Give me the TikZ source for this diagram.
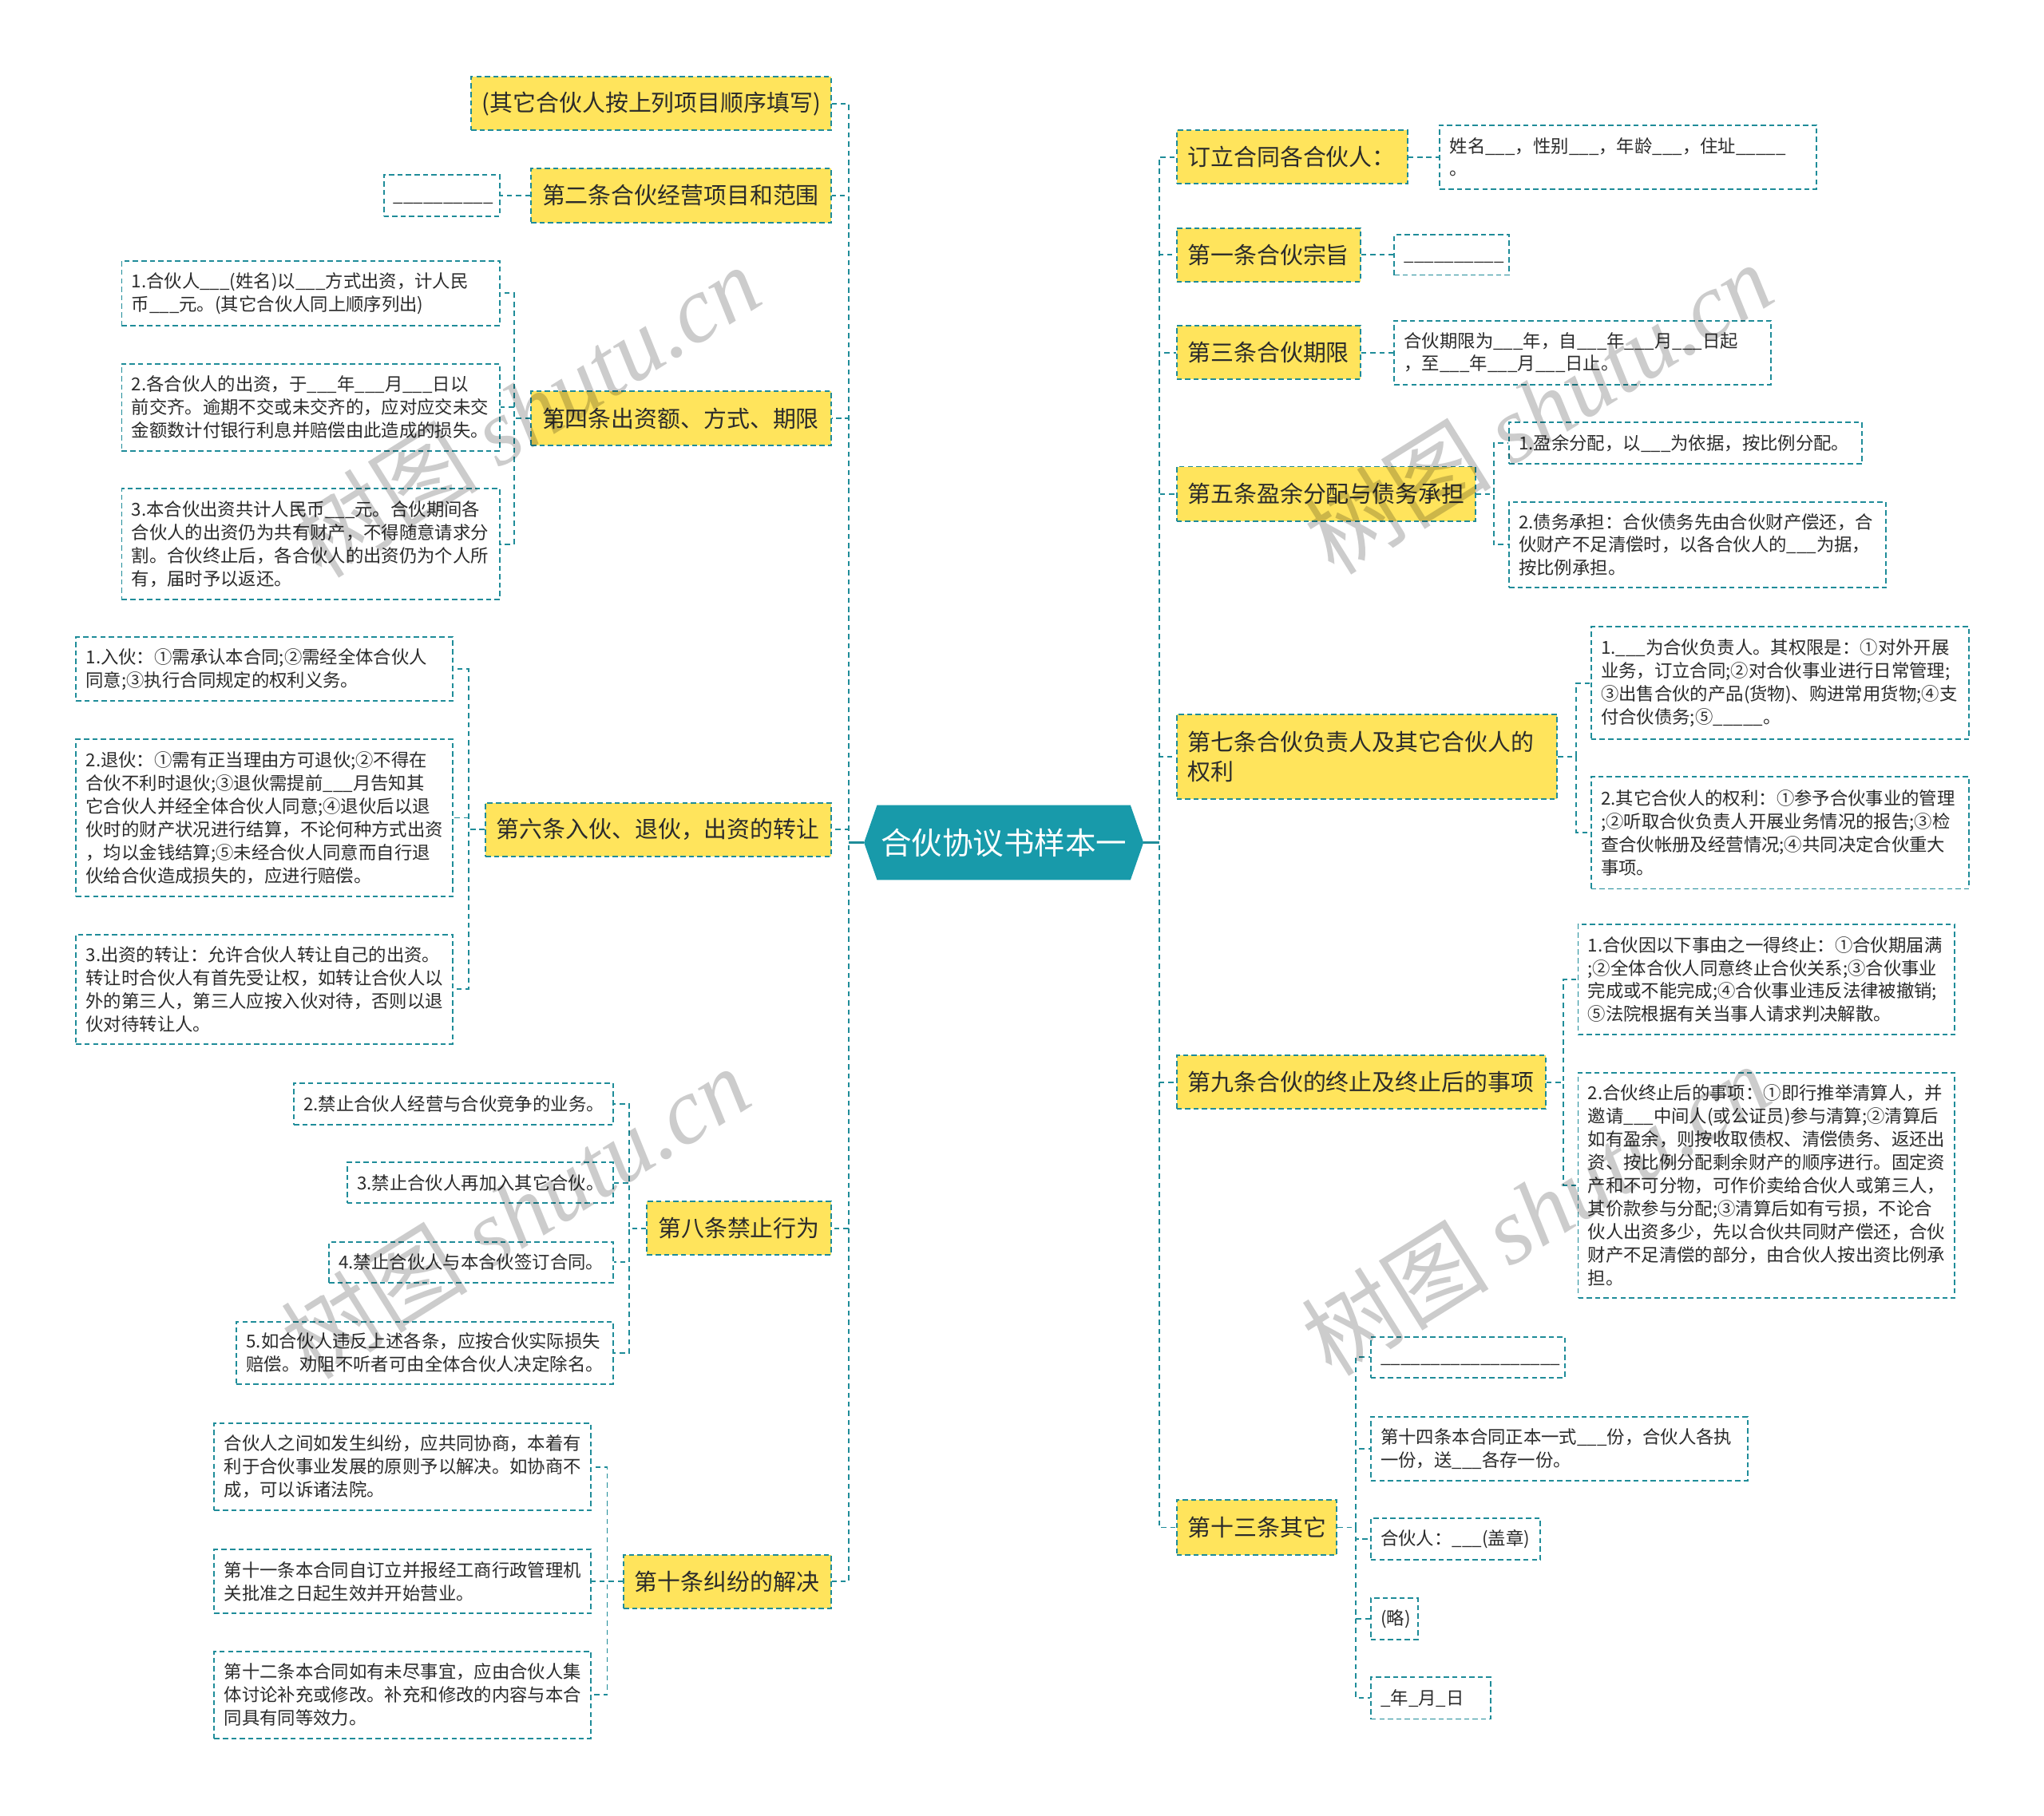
\documentclass[tikz,border=0pt]{standalone}
\usepackage{fontspec}
\setmainfont{Noto Sans CJK SC}
\newfontfamily\wmlatin{Liberation Serif}
\usetikzlibrary{backgrounds}
\definecolor{ylw}{HTML}{FFE45C}
\definecolor{bord}{HTML}{1F8C99}
\definecolor{rootc}{HTML}{189AAA}
\definecolor{txt}{HTML}{2B2B2B}
\tikzset{
 ybox/.style={draw=bord, fill=ylw, line width=1.2pt, dash pattern=on 4pt off 2.5pt, inner xsep=8.5pt, inner ysep=0pt, align=left, text=txt, font=\fontsize{17.7}{23}\selectfont},
 cbox/.style={draw=bord, fill=white, line width=1.2pt, dash pattern=on 4pt off 2.5pt, inner xsep=7.5pt, inner ysep=0pt, align=left, text=txt, font=\fontsize{13.7}{17.7}\selectfont},
 conn/.style={draw=bord, line width=1.2pt, dash pattern=on 4pt off 3pt},
 stub/.style={draw=bord, line width=1.6pt},
 wm/.style={text=black, text opacity=0.2, rotate=32, inner sep=0pt, font=\fontsize{72}{72}\selectfont},
}
\begin{document}
\begin{tikzpicture}[x=1pt,y=-1pt]
\useasboundingbox (0,0) rectangle (1568,1393);

% root
\node[text=white, font=\fontsize{23.6}{28}\selectfont, minimum width=194pt, minimum height=57pt, inner sep=0pt] (root) at (770,646.5) {合伙协议书样本一};

% left main nodes
\node[ybox, anchor=east, text width=259pt, minimum height=41pt] (L1) at (638,79.5) {(其它合伙人按上列项目顺序填写)};
\node[ybox, anchor=east, text width=213pt, minimum height=42pt] (L2) at (638,150) {第二条合伙经营项目和范围};
\node[ybox, anchor=east, text width=213pt, minimum height=42pt] (L3) at (638,321) {第四条出资额、方式、期限};
\node[ybox, anchor=east, text width=248pt, minimum height=41pt] (L4) at (638,636.5) {第六条入伙、退伙，出资的转让};
\node[ybox, anchor=east, text width=124pt, minimum height=41pt] (L5) at (638,942.5) {第八条禁止行为};
\node[ybox, anchor=east, text width=142pt, minimum height=41pt] (L6) at (638,1213.5) {第十条纠纷的解决};

% right main nodes
\node[ybox, anchor=west, text width=160pt, minimum height=41pt] (R1) at (902,120.5) {订立合同各合伙人：};
\node[ybox, anchor=west, text width=124pt, minimum height=41pt] (R2) at (902,195.5) {第一条合伙宗旨};
\node[ybox, anchor=west, text width=124pt, minimum height=41pt] (R3) at (902,270.5) {第三条合伙期限};
\node[ybox, anchor=west, text width=212pt, minimum height=42pt] (R4) at (902,379) {第五条盈余分配与债务承担};
\node[ybox, anchor=west, text width=275pt, minimum height=65pt] (R7) at (902,580.5) {第七条合伙负责人及其它合伙人的\\权利};
\node[ybox, anchor=west, text width=266pt, minimum height=41pt] (R9) at (902,830.5) {第九条合伙的终止及终止后的事项};
\node[ybox, anchor=west, text width=106pt, minimum height=42pt] (R13) at (902,1172) {第十三条其它};

% left children
\node[cbox, anchor=east, text width=74pt, minimum height=31.5pt] (L2a) at (384,150) {\vphantom{国}\_\_\_\_\_\_\_\_\_\_};

\node[cbox, anchor=east, text width=275pt, minimum height=50pt] (L3a) at (384,225) {1.合伙人\_\_\_(姓名)以\_\_\_方式出资，计人民\\币\_\_\_元。(其它合伙人同上顺序列出)};
\node[cbox, anchor=east, text width=275pt, minimum height=67pt] (L3b) at (384,312.5) {2.各合伙人的出资，于\_\_\_年\_\_\_月\_\_\_日以\\前交齐。逾期不交或未交齐的，应对应交未交\\金额数计付银行利息并赔偿由此造成的损失。};
\node[cbox, anchor=east, text width=275pt, minimum height=85pt] (L3c) at (384,417.5) {3.本合伙出资共计人民币\_\_\_元。合伙期间各\\合伙人的出资仍为共有财产，不得随意请求分\\割。合伙终止后，各合伙人的出资仍为个人所\\有，届时予以返还。};

\node[cbox, anchor=east, text width=274pt, minimum height=49pt] (L4a) at (348,513.5) {1.入伙：①需承认本合同;②需经全体合伙人\\同意;③执行合同规定的权利义务。};
\node[cbox, anchor=east, text width=274pt, minimum height=121pt] (L4b) at (348,627.5) {2.退伙：①需有正当理由方可退伙;②不得在\\合伙不利时退伙;③退伙需提前\_\_\_月告知其\\它合伙人并经全体合伙人同意;④退伙后以退\\伙时的财产状况进行结算，不论何种方式出资\\，均以金钱结算;⑤未经合伙人同意而自行退\\伙给合伙造成损失的，应进行赔偿。};
\node[cbox, anchor=east, text width=274pt, minimum height=84pt] (L4c) at (348,759) {3.出资的转让：允许合伙人转让自己的出资。\\转让时合伙人有首先受让权，如转让合伙人以\\外的第三人，第三人应按入伙对待，否则以退\\伙对待转让人。};

\node[cbox, anchor=east, text width=230pt, minimum height=32pt] (L5a) at (471,847) {2.禁止合伙人经营与合伙竞争的业务。};
\node[cbox, anchor=east, text width=189pt, minimum height=31pt] (L5b) at (471,907.5) {3.禁止合伙人再加入其它合伙。};
\node[cbox, anchor=east, text width=203pt, minimum height=31pt] (L5c) at (471,968.5) {4.禁止合伙人与本合伙签订合同。};
\node[cbox, anchor=east, text width=274pt, minimum height=48pt] (L5d) at (471,1038) {5.如合伙人违反上述各条，应按合伙实际损失\\赔偿。劝阻不听者可由全体合伙人决定除名。};

\node[cbox, anchor=east, text width=274pt, minimum height=67pt] (L6a) at (454,1125.5) {合伙人之间如发生纠纷，应共同协商，本着有\\利于合伙事业发展的原则予以解决。如协商不\\成，可以诉诸法院。};
\node[cbox, anchor=east, text width=274pt, minimum height=49pt] (L6b) at (454,1213.5) {第十一条本合同自订立并报经工商行政管理机\\关批准之日起生效并开始营业。};
\node[cbox, anchor=east, text width=274pt, minimum height=67pt] (L6c) at (454,1300.5) {第十二条本合同如有未尽事宜，应由合伙人集\\体讨论补充或修改。补充和修改的内容与本合\\同具有同等效力。};

% right children
\node[cbox, anchor=west, text width=274pt, minimum height=49pt] (R1a) at (1104,120.5) {姓名\_\_\_，性别\_\_\_，年龄\_\_\_，住址\_\_\_\_\_\\。};
\node[cbox, anchor=west, text width=73pt, minimum height=31pt] (R2a) at (1069,195.5) {\vphantom{国}\_\_\_\_\_\_\_\_\_\_};
\node[cbox, anchor=west, text width=274pt, minimum height=49pt] (R3a) at (1069,270.5) {合伙期限为\_\_\_年，自\_\_\_年\_\_\_月\_\_\_日起\\，至\_\_\_年\_\_\_月\_\_\_日止。};

\node[cbox, anchor=west, text width=256pt, minimum height=32pt] (R4a) at (1157,340) {1.盈余分配，以\_\_\_为依据，按比例分配。};
\node[cbox, anchor=west, text width=274pt, minimum height=66pt] (R4b) at (1157,418) {2.债务承担：合伙债务先由合伙财产偿还，合\\伙财产不足清偿时，以各合伙人的\_\_\_为据，\\按比例承担。};

\node[cbox, anchor=west, text width=275pt, minimum height=86pt] (R7a) at (1220,524) {1.\_\_\_为合伙负责人。其权限是：①对外开展\\业务，订立合同;②对合伙事业进行日常管理;\\③出售合伙的产品(货物)、购进常用货物;④支\\付合伙债务;⑤\_\_\_\_\_。};
\node[cbox, anchor=west, text width=275pt, minimum height=86pt] (R7b) at (1220,639) {2.其它合伙人的权利：①参予合伙事业的管理\\;②听取合伙负责人开展业务情况的报告;③检\\查合伙帐册及经营情况;④共同决定合伙重大\\事项。};

\node[cbox, anchor=west, text width=274pt, minimum height=85pt] (R9a) at (1210,751.5) {1.合伙因以下事由之一得终止：①合伙期届满\\;②全体合伙人同意终止合伙关系;③合伙事业\\完成或不能完成;④合伙事业违反法律被撤销;\\⑤法院根据有关当事人请求判决解散。};
\node[cbox, anchor=west, text width=274pt, minimum height=173pt] (R9b) at (1210,909.5) {2.合伙终止后的事项：①即行推举清算人，并\\邀请\_\_\_中间人(或公证员)参与清算;②清算后\\如有盈余，则按收取债权、清偿债务、返还出\\资、按比例分配剩余财产的顺序进行。固定资\\产和不可分物，可作价卖给合伙人或第三人，\\其价款参与分配;③清算后如有亏损，不论合\\伙人出资多少，先以合伙共同财产偿还，合伙\\财产不足清偿的部分，由合伙人按出资比例承\\担。};

\node[cbox, anchor=west, text width=134pt, minimum height=31pt] (R13a) at (1051,1041.5) {\vphantom{国}\_\_\_\_\_\_\_\_\_\_\_\_\_\_\_\_\_\_};
\node[cbox, anchor=west, text width=274pt, minimum height=49pt] (R13b) at (1051,1111.5) {第十四条本合同正本一式\_\_\_份，合伙人各执\\一份，送\_\_\_各存一份。};
\node[cbox, anchor=west, text width=115pt, minimum height=32pt] (R13c) at (1051,1181) {合伙人：\_\_\_(盖章)};
\node[cbox, anchor=west, text width=21pt, minimum height=32pt] (R13d) at (1051,1242) {(略)};
\node[cbox, anchor=west, text width=77pt, minimum height=32pt] (R13e) at (1051,1303) {\_年\_月\_日};

% background and root shape
\begin{scope}[on background layer]
\fill[white] (0,0) rectangle (1568,1393);
\fill[rootc] ([xshift=-10pt]root.west) -- (root.north west) -- (root.north east) -- ([xshift=10pt]root.east) -- (root.south east) -- (root.south west) -- cycle;
% trunk connectors
\foreach \n in {L1,L2,L3,L4,L5,L6}
  \draw[conn] ([xshift=-10pt]root.west) -- ++(-12,0) |- (\n.east);
\foreach \n in {R1,R2,R3,R4,R7,R9,R13}
  \draw[conn] ([xshift=10pt]root.east) -- ++(12,0) |- (\n.west);
\draw[stub] ([xshift=-10pt]root.west) -- ++(-12,0);
\draw[stub] ([xshift=10pt]root.east) -- ++(12,0);
% child connectors
\draw[conn] (L2.west) -- ++(-12,0) |- (L2a.east);
\foreach \n in {L3a,L3b,L3c} \draw[conn] (L3.west) -- ++(-12.5,0) |- (\n.east);
\foreach \n in {L4a,L4b,L4c} \draw[conn] (L4.west) -- ++(-12.5,0) |- (\n.east);
\foreach \n in {L5a,L5b,L5c,L5d} \draw[conn] (L5.west) -- ++(-13,0) |- (\n.east);
\foreach \n in {L6a,L6b,L6c} \draw[conn] (L6.west) -- ++(-12,0) |- (\n.east);
\draw[conn] (R1.east) -- ++(12,0) |- (R1a.west);
\draw[conn] (R2.east) -- ++(13,0) |- (R2a.west);
\draw[conn] (R3.east) -- ++(13,0) |- (R3a.west);
\foreach \n in {R4a,R4b} \draw[conn] (R4.east) -- ++(13.5,0) |- (\n.west);
\foreach \n in {R7a,R7b} \draw[conn] (R7.east) -- ++(14,0) |- (\n.west);
\foreach \n in {R9a,R9b} \draw[conn] (R9.east) -- ++(13,0) |- (\n.west);
\foreach \n in {R13a,R13b,R13c,R13d,R13e} \draw[conn] (R13.east) -- ++(14,0) |- (\n.west);
\end{scope}

% watermarks
\node[wm] (wm1) at (403,315) {树图 {\wmlatin\itshape shutu.cn}};
\node[wm] (wm2) at (1180,313) {树图 {\wmlatin\itshape shutu.cn}};
\node[wm] (wm3) at (395,930) {树图 {\wmlatin\itshape shutu.cn}};
\node[wm] (wm4) at (1178,928) {树图 {\wmlatin\itshape shutu.cn}};
\end{tikzpicture}
\end{document}
